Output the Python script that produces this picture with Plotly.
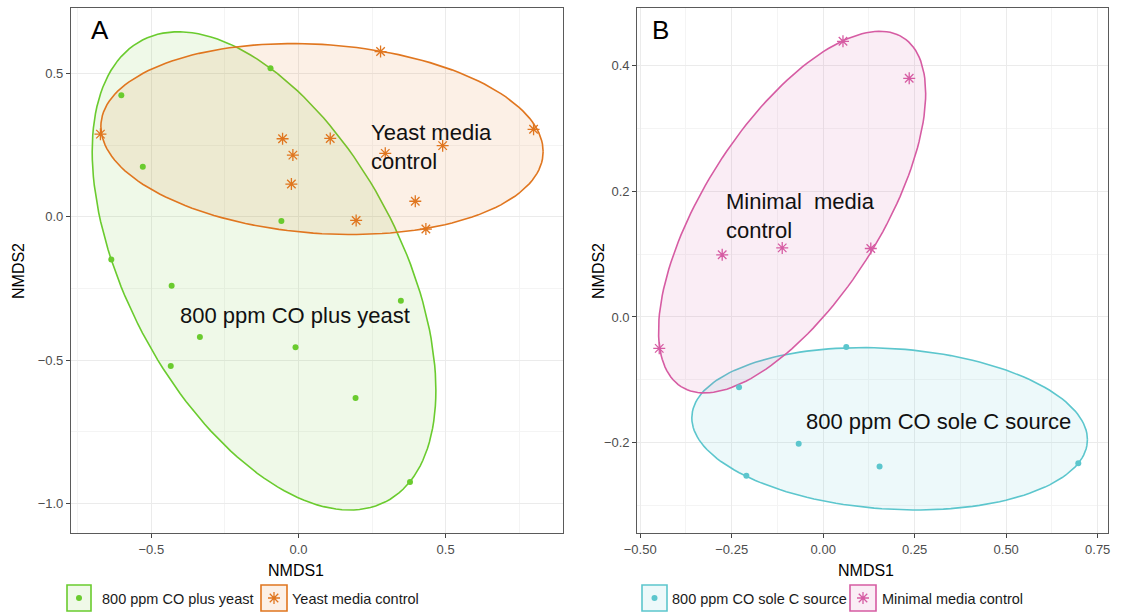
import numpy as np
import plotly.graph_objects as go

# ---------------- data ----------------
# Panel A
a_yeast_x = [-0.095, -0.602, -0.529, -0.058, -0.636, -0.431, 0.348, -0.335, -0.010, -0.434, 0.194, 0.379]
a_yeast_y = [0.518, 0.424, 0.174, -0.015, -0.149, -0.241, -0.293, -0.419, -0.455, -0.521, -0.632, -0.925]
a_ctrl_x = [0.279, -0.673, -0.054, 0.108, -0.019, 0.295, 0.490, 0.799, -0.024, 0.397, 0.196, 0.433]
a_ctrl_y = [0.576, 0.288, 0.272, 0.273, 0.215, 0.221, 0.248, 0.305, 0.114, 0.054, -0.013, -0.043]
# Panel B
b_co_x = [0.063, -0.230, -0.067, -0.210, 0.154, 0.697]
b_co_y = [-0.048, -0.112, -0.202, -0.253, -0.238, -0.233]
b_min_x = [0.054, 0.235, -0.276, -0.112, 0.130, -0.448]
b_min_y = [0.439, 0.380, 0.099, 0.110, 0.109, -0.050]

names_a = ["800 ppm CO plus yeast", "Yeast media control"]
names_b = ["800 ppm CO sole C source", "Minimal media control"]

# ellipse parameters (group order: A-yeast, A-control, B-CO, B-minimal)
ell_cx = [-0.117, 0.080, 0.1815, -0.085]
ell_cy = [-0.189, 0.271, -0.178, 0.167]
ell_sx = [0.584, 0.7515, 0.5405, 0.365]
ell_sy = [0.834, 0.333, 0.1293, 0.288]
ell_r = [-0.499, -0.132, -0.134, 0.656]

GREEN = "#6ACB2E"
ORANGE = "#E0761F"
TEAL = "#5CC6CD"
PINK = "#D65CA3"

W, H = 1147, 613


def rgba(hexc, a):
    h = hexc.lstrip("#")
    r, g, b = int(h[0:2], 16), int(h[2:4], 16), int(h[4:6], 16)
    return f"rgba({r},{g},{b},{a})"


def ellipse(cx, cy, sx, sy, r, segments=160):
    cov = np.array([[sx * sx, r * sx * sy], [r * sx * sy, sy * sy]])
    L = np.linalg.cholesky(cov)
    ang = np.linspace(0, 2 * np.pi, segments + 1)
    circ = np.column_stack([np.cos(ang), np.sin(ang)])
    pts = np.array([cx, cy]) + circ @ L.T
    return pts[:, 0], pts[:, 1]


fig = go.Figure()

for i, (col, xa, ya) in enumerate([(GREEN, "x", "y"), (ORANGE, "x", "y"),
                                   (TEAL, "x2", "y2"), (PINK, "x2", "y2")]):
    ex, ey = ellipse(ell_cx[i], ell_cy[i], ell_sx[i], ell_sy[i], ell_r[i])
    fig.add_trace(go.Scatter(x=ex, y=ey, mode="lines", fill="toself",
                             fillcolor=rgba(col, 0.11), line=dict(color=col, width=1.6),
                             xaxis=xa, yaxis=ya, hoverinfo="skip", showlegend=False))


def dots(xs, ys, col, xa, ya, name):
    return go.Scatter(x=xs, y=ys, mode="markers", name=name, xaxis=xa, yaxis=ya,
                      marker=dict(symbol="circle", size=6, color=col, line=dict(width=0)),
                      showlegend=False)


def stars(xs, ys, col, xa, ya, name):
    return go.Scatter(x=xs, y=ys, mode="markers", name=name, xaxis=xa, yaxis=ya,
                      marker=dict(symbol="asterisk", size=10, color=col,
                                  line=dict(color=col, width=1.3)),
                      showlegend=False)


fig.add_trace(dots(a_yeast_x, a_yeast_y, GREEN, "x", "y", names_a[0]))
fig.add_trace(stars(a_ctrl_x, a_ctrl_y, ORANGE, "x", "y", names_a[1]))
fig.add_trace(dots(b_co_x, b_co_y, TEAL, "x2", "y2", names_b[0]))
fig.add_trace(stars(b_min_x, b_min_y, PINK, "x2", "y2", names_b[1]))

# ---------------- legend (manual) ----------------
leg_y = 598
leg_boxes = [(67, 91, GREEN), (261, 287, ORANGE), (642, 667, TEAL), (850, 876, PINK)]
leg_text_x = [100, 290, 670, 880]
leg_labels = names_a + names_b
leg_sym = ["circle", "asterisk", "circle", "asterisk"]
for (x0, x1, col), tx, lab, sym in zip(leg_boxes, leg_text_x, leg_labels, leg_sym):
    fig.add_shape(type="rect", xref="x3", yref="y3", x0=x0, x1=x1, y0=leg_y - 13, y1=leg_y + 13,
                  line=dict(color=col, width=1.6), fillcolor=rgba(col, 0.11), layer="below")
    fig.add_trace(go.Scatter(x=[(x0 + x1) / 2], y=[leg_y], mode="markers", xaxis="x3", yaxis="y3",
                             marker=dict(symbol=sym, size=6 if sym == "circle" else 10, color=col,
                                         line=dict(color=col, width=0 if sym == "circle" else 1.3)),
                             showlegend=False, hoverinfo="skip"))
    fig.add_annotation(x=tx, y=leg_y + 1, xref="x3", yref="y3", text=lab, showarrow=False,
                       xanchor="left", yanchor="middle",
                       font=dict(size=14.5, color="#1a1a1a"))

# ---------------- axes ----------------
FONT = "Liberation Sans, Arial, Helvetica, sans-serif"
common = dict(showline=True, linecolor="#5a5a5a", linewidth=1.2, mirror=True,
              ticks="outside", ticklen=4, tickwidth=1.1, tickcolor="#444444",
              tickfont=dict(size=13, color="#4D4D4D"), automargin=False,
              showgrid=True, gridcolor="#EBEBEB", gridwidth=1.1, zeroline=False)
minor = dict(showgrid=True, gridcolor="#F4F4F4", gridwidth=0.6, ticks="")

yd = [1 - 533 / H, 1 - 8 / H]
fig.update_layout(
    xaxis=dict(domain=[71 / W, 563 / W], range=[-0.773, 0.899], tickvals=[-0.5, 0, 0.5],
               tickformat=".1f", anchor="y",
               minor=dict(tickvals=[-0.75, -0.25, 0.25, 0.75], **minor), **common),
    yaxis=dict(domain=yd, range=[-1.103, 0.728], tickvals=[-1.0, -0.5, 0, 0.5],
               tickformat=".1f", anchor="x",
               minor=dict(tickvals=[-0.75, -0.25, 0.25], **minor), **common),
    xaxis2=dict(domain=[637.3 / W, 1108.3 / W], range=[-0.508, 0.779],
                tickvals=[-0.5, -0.25, 0, 0.25, 0.5, 0.75], tickformat=".2f", anchor="y2",
                minor=dict(tickvals=[-0.375, -0.125, 0.125, 0.375, 0.625], **minor), **common),
    yaxis2=dict(domain=yd, range=[-0.344, 0.492], tickvals=[-0.2, 0, 0.2, 0.4],
                tickformat=".1f", anchor="x2",
                minor=dict(tickvals=[-0.3, -0.1, 0.1, 0.3], **minor), **common),
    xaxis3=dict(domain=[0, 1], range=[0, W], visible=False, anchor="y3", fixedrange=True,
                automargin=False),
    yaxis3=dict(domain=[0, 1], range=[H, 0], visible=False, anchor="x3", fixedrange=True,
                automargin=False),
    width=W, height=H, margin=dict(l=0, r=0, t=0, b=0, autoexpand=False),
    paper_bgcolor="white", plot_bgcolor="rgba(0,0,0,0)",
    font=dict(family=FONT, color="#1a1a1a"),
    showlegend=False,
)

# ---------------- text annotations ----------------
lab_font = dict(size=22, color="#111111")
fig.add_annotation(x=0.238, y=0.242, xref="x", yref="y", text="Yeast media<br>control",
                   showarrow=False, xanchor="left", yanchor="middle", align="left", font=lab_font)
fig.add_annotation(x=-0.408, y=-0.343, xref="x", yref="y", text="800 ppm CO plus yeast",
                   showarrow=False, xanchor="left", yanchor="middle", font=lab_font)
fig.add_annotation(x=-0.271, y=0.160, xref="x2", yref="y2", text="Minimal  media<br>control",
                   showarrow=False, xanchor="left", yanchor="middle", align="left", font=lab_font)
fig.add_annotation(x=-0.053, y=-0.166, xref="x2", yref="y2", text="800 ppm CO sole C source",
                   showarrow=False, xanchor="left", yanchor="middle", font=lab_font)

for tx, lab in [(89, "A"), (650, "B")]:
    fig.add_annotation(x=tx, y=30, xref="x3", yref="y3", text=lab, showarrow=False,
                       xanchor="left", yanchor="middle", font=dict(size=26, color="#000000"))

for tx, ty, lab, ang in [(296, 570, "NMDS1", 0), (866, 570, "NMDS1", 0),
                         (18, 271, "NMDS2", -90), (598, 271, "NMDS2", -90)]:
    fig.add_annotation(x=tx, y=ty, xref="x3", yref="y3", text=lab, showarrow=False,
                       xanchor="center", yanchor="middle", textangle=ang,
                       font=dict(size=16, color="#000000"))

fig.write_html("out.html")
